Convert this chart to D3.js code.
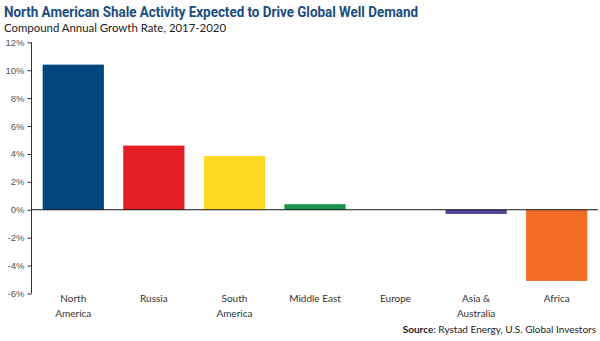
<!DOCTYPE html>
<html>
<head>
<meta charset="utf-8">
<script src="https://cdn.jsdelivr.net/npm/d3@7"></script>
<style>
  body { margin: 0; background: #fff; }
  svg { display: block; }
</style>
</head>
<body>
<div id="chart"></div>
<script>
// chart data
let regions = ["North America", "Russia", "South America", "Middle East", "Europe", "Asia & Australia", "Africa"];
let regionLines = [["North", "America"], ["Russia"], ["South", "America"], ["Middle East"], ["Europe"], ["Asia &", "Australia"], ["Africa"]];
let growth = [10.4, 4.6, 3.85, 0.4, 0, -0.3, -5.1];
let barColors = ["#00467f", "#e31f26", "#fdd923", "#16944a", "#888888", "#4f4498", "#f26c23"];
let yTicks = [-6, -4, -2, 0, 2, 4, 6, 8, 10, 12];

let svgWidth = 600;
let svgHeight = 341;

let svg = d3.select("#chart")
    .append("svg")
    .attr("width", svgWidth)
    .attr("height", svgHeight);

// title + subtitle (condensed to the original's width)
svg.append("text")
    .attr("x", 4)
    .attr("y", 17)
    .attr("font-family", "Roboto, sans-serif")
    .attr("font-weight", "bold")
    .attr("font-size", 14.5)
    .attr("fill", "#1b4c80")
    .attr("textLength", 414)
    .attr("lengthAdjust", "spacingAndGlyphs")
    .text("North American Shale Activity Expected to Drive Global Well Demand");

svg.append("text")
    .attr("x", 4)
    .attr("y", 31.5)
    .attr("font-family", "Lato, sans-serif")
    .attr("font-size", 12)
    .attr("fill", "#222")
    .attr("textLength", 222)
    .attr("lengthAdjust", "spacingAndGlyphs")
    .text("Compound Annual Growth Rate, 2017-2020");

// scales
let x = d3.scaleBand()
    .domain(regions)
    .range([33, 597])
    .paddingInner(0.24)
    .paddingOuter(0.12);

let y = d3.scaleLinear()
    .domain([-6, 12])
    .range([293.5, 42.3]);

// bars
svg.selectAll("rect.bar")
    .data(growth)
    .join("rect")
    .attr("class", "bar")
    .attr("x", (d, i) => x(regions[i]))
    .attr("width", x.bandwidth())
    .attr("y", d => y(Math.max(0, d)))
    .attr("height", d => Math.abs(y(d) - y(0)))
    .attr("fill", (d, i) => barColors[i]);

// y axis
let leftAxis = d3.axisLeft(y)
    .tickValues(yTicks)
    .tickFormat(d => d + "%")
    .tickSize(4)
    .tickPadding(3);

let yAxis = svg.append("g")
    .attr("transform", "translate(31.5, 0)")
    .call(leftAxis);

yAxis.select(".domain").attr("stroke", "#333").attr("d", `M0,${y(12)}V${y(-6)}`);
yAxis.selectAll(".tick line").attr("stroke", "#333");
yAxis.selectAll(".tick text")
    .attr("font-family", "Liberation Sans, Arial, sans-serif")
    .attr("font-size", 9.5)
    .attr("fill", "#555");

// zero line
svg.append("line")
    .attr("x1", 31.5)
    .attr("x2", 598)
    .attr("y1", y(0))
    .attr("y2", y(0))
    .attr("stroke", "#111")
    .attr("stroke-width", 1.2);

// category labels
let catLabels = svg.selectAll("text.cat")
    .data(regions)
    .join("text")
    .attr("class", "cat")
    .attr("x", d => x(d) + x.bandwidth() / 2)
    .attr("y", 302)
    .attr("text-anchor", "middle")
    .attr("font-family", "Lato, sans-serif")
    .attr("font-size", 10)
    .attr("fill", "#333");

catLabels.selectAll("tspan")
    .data((d, i) => regionLines[i])
    .join("tspan")
    .attr("x", function () { return d3.select(this.parentNode).attr("x"); })
    .attr("dy", (d, i) => i === 0 ? 0 : 14.5)
    .text(d => d);

// source
let source = svg.append("text")
    .attr("x", 596)
    .attr("y", 333)
    .attr("text-anchor", "end")
    .attr("font-family", "Lato, sans-serif")
    .attr("font-size", 10)
    .attr("fill", "#222");

source.append("tspan").attr("font-weight", "bold").text("Source");
source.append("tspan").text(": Rystad Energy, U.S. Global Investors");
</script>
</body>
</html>
